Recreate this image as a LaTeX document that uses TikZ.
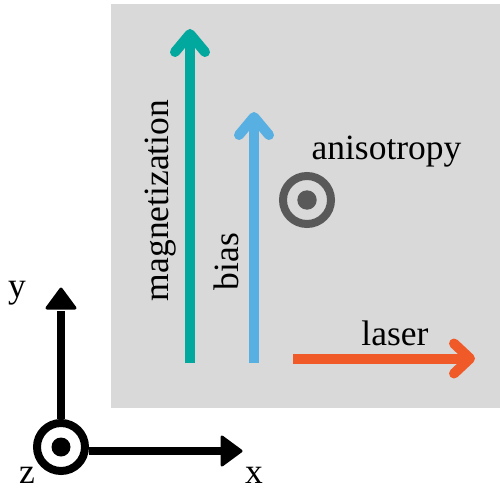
\documentclass[tikz,border=0pt]{standalone}
\usepackage{fontspec}
\usetikzlibrary{calc}
\setmainfont{Liberation Serif}
\definecolor{bgGray}{RGB}{217,217,217}
\definecolor{magTeal}{RGB}{0,168,157}
\definecolor{biasBlue}{RGB}{88,176,226}
\definecolor{laserOrange}{RGB}{240,90,40}
\definecolor{aniGray}{RGB}{89,89,89}
\tikzset{
  lbl/.style={inner sep=0pt, font=\fontsize{35.5}{40}\selectfont},
  fatarrow/.style={line width=10pt, line cap=butt},
  chevron/.style={line width=10pt, line cap=round, line join=round},
  axisline/.style={line width=8pt, black},
  axishead/.style={fill=black, draw=black, line width=3pt, line join=round},
}
\begin{document}
\begin{tikzpicture}[x=1pt, y=-1pt]
\useasboundingbox (0,0) rectangle (500,500);
% background panel
\fill[bgGray] (111,4) rectangle (500,408);

% magnetization arrow
\coordinate (mB) at (190,363);
\coordinate (mT) at (190,34);
\draw[fatarrow, magTeal] (mB) -- ($(mT)+(0,2)$);
\draw[chevron, magTeal] (175,52) -- (mT) -- (205,52);
\node[lbl, rotate=90, anchor=base] (mL) at (168.5,200.5) {magnetization};

% bias arrow
\coordinate (bB) at (254,363);
\coordinate (bT) at (254,117);
\draw[fatarrow, biasBlue] (bB) -- ($(bT)+(0,2)$);
\draw[chevron, biasBlue] (239,135) -- (bT) -- (269,135);
\node[lbl, rotate=90, anchor=base] (bL) at (238,261.5) {bias};

% anisotropy symbol
\node[circle, draw=aniGray, line width=8pt, minimum size=48pt, inner sep=0pt] (aC) at (307,200) {};
\fill[aniGray] (aC.center) circle (9.7pt);
\node[lbl, anchor=base] (aL) at (386.5,159) {anisotropy};

% laser arrow
\coordinate (lB) at (293,358.5);
\coordinate (lT) at (470,358.5);
\draw[fatarrow, laserOrange] (lB) -- ($(lT)+(-2,0)$);
\draw[chevron, laserOrange] (454,343.5) -- (lT) -- (454,373.5);
\node[lbl, anchor=base] (lL) at (395,345) {laser};

% axes
\node[circle, draw=black, fill=white, line width=8pt, minimum size=48pt, inner sep=0pt] (o) at (61,447) {};
\fill[black] (o.center) circle (9.5pt);
\coordinate (yT) at (61,311);
\coordinate (xT) at (222,451);
\draw[axisline] (o.north) -- (yT);
\draw[axisline] (o.east |- xT) -- (xT);
\filldraw[axishead] (61,289) -- (47,308) -- (75,308) -- cycle;
\filldraw[axishead] (241,451) -- (222,437) -- (222,465) -- cycle;
\node[lbl, anchor=base] (yL) at (17,297) {y};
\node[lbl, anchor=base] (zL) at (27,483) {z};
\node[lbl, anchor=base] (xL) at (254,483) {x};
\end{tikzpicture}
\end{document}
